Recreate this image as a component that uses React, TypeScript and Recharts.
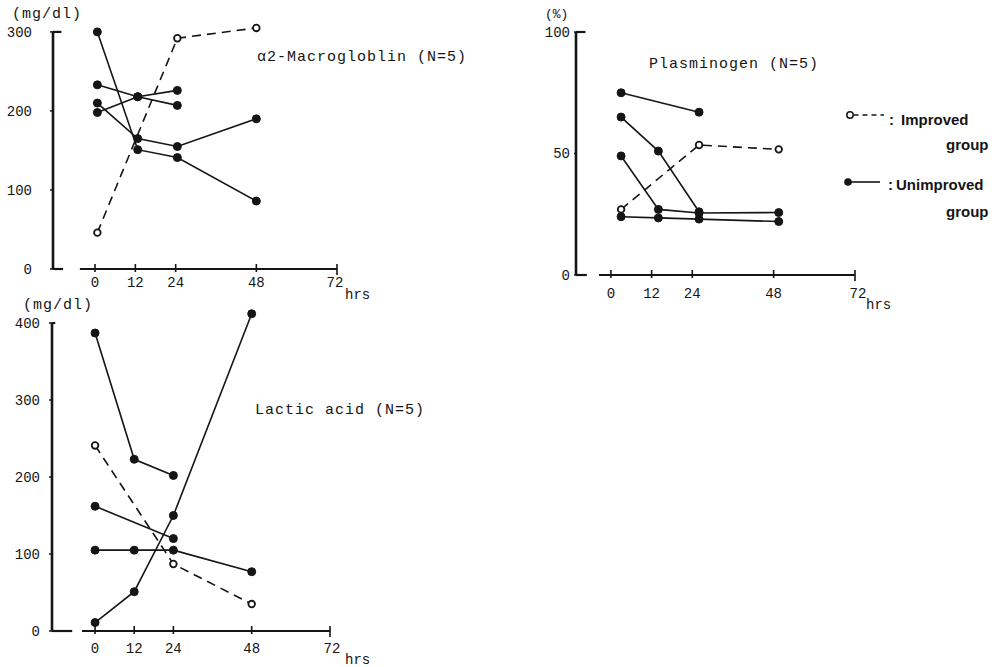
import { LineChart, Line, XAxis, YAxis, ReferenceLine, Legend } from 'recharts'

const INK = '#151515'
const MONO = '"Liberation Mono", "DejaVu Sans Mono", monospace'
const SANS = '"Liberation Sans", Arial, sans-serif'

// α2-Macroglobulin, mg/dl (first series = improved group)
const macroHours = [0.7, 12.7, 24.5, 48]
const macroImproved = [46, null, 292, 305]
const macroUnimproved1 = [300, 151, 141, 86]
const macroUnimproved2 = [210, 165, 155, 190]
const macroUnimproved3 = [233, 218, 207, null]
const macroUnimproved4 = [198, 218, 226, null]
const macroTicks = [0, 100, 200, 300]

// Plasminogen, %
const plasHours = [3, 14, 26, 49.5]
const plasImproved = [27, null, 53.5, 51.7]
const plasUnimproved1 = [75, null, 67, null]
const plasUnimproved2 = [65, 51, 26, null]
const plasUnimproved3 = [49, 27, 25.5, 25.7]
const plasUnimproved4 = [24, 23.5, 23, 22]
const plasTicks = [0, 50, 100]

// Lactic acid, mg/dl
const lacticHours = [0, 12, 24, 48]
const lacticImproved = [241, null, 87, 35]
const lacticUnimproved1 = [387, 223, 202, null]
const lacticUnimproved2 = [162, null, 120, null]
const lacticUnimproved3 = [105, 105, 105, 77]
const lacticUnimproved4 = [11, 51, 150, 412]
const lacticTicks = [0, 100, 200, 300, 400]

const hourTicks = [0, 12, 24, 48, 72]

const toPoints = (hours: number[], values: (number | null)[]) =>
  hours.map((t, i) => ({ t, v: values[i] })).filter((p) => p.v !== null)

const improvedDot = { r: 3.3, fill: '#fff', stroke: INK, strokeWidth: 1.8, strokeDasharray: 'none' }
const unimprovedDot = { r: 4, fill: INK, stroke: INK, strokeWidth: 1, strokeDasharray: 'none' }

function hourTick(labelDy: number, hrsDy: number, x72Dx: number, hrsDx: number) {
  return function HourTick(props: any) {
    const { x, y, payload } = props
    const is72 = payload.value === 72
    return (
      <g>
        <line x1={x} x2={x} y1={y - 5} y2={y + (is72 ? 6 : 3)} stroke={INK} strokeWidth={1.6} />
        <text
          x={x + (is72 ? x72Dx : 0)}
          y={y + labelDy}
          textAnchor="middle"
          fontFamily={MONO}
          fontSize={14}
          fill={INK}
        >
          {payload.value}
        </text>
        {is72 && (
          <text x={x + hrsDx} y={y + labelDy + hrsDy} fontFamily={MONO} fontSize={14} fill={INK}>
            hrs
          </text>
        )}
      </g>
    )
  }
}

function LegendBox() {
  const txt = { position: 'absolute' as const, fontFamily: SANS, fontWeight: 700, fontSize: 15, lineHeight: '20px', color: INK }
  return (
    <div style={{ position: 'relative', width: 160, height: 120 }}>
      <svg style={{ position: 'absolute', left: 0, top: 4 }} width={42} height={14}>
        <circle cx={6} cy={7} r={3.2} fill="#fff" stroke={INK} strokeWidth={1.5} />
        <line x1={9.5} x2={40} y1={7} y2={7} stroke={INK} strokeWidth={1.6} strokeDasharray="5 4" />
      </svg>
      <span style={{ ...txt, left: 45, top: 6 }}>:</span>
      <span style={{ ...txt, left: 57, top: 6 }}>Improved</span>
      <span style={{ ...txt, left: 102, top: 31 }}>group</span>
      <svg style={{ position: 'absolute', left: 0, top: 71 }} width={42} height={14}>
        <circle cx={4} cy={7} r={3.8} fill={INK} />
        <line x1={6} x2={36} y1={7} y2={7} stroke={INK} strokeWidth={1.6} />
      </svg>
      <span style={{ ...txt, left: 44, top: 71 }}>:</span>
      <span style={{ ...txt, left: 52, top: 71 }}>Unimproved</span>
      <span style={{ ...txt, left: 102, top: 98 }}>group</span>
    </div>
  )
}

interface PanelSpec {
  left: number
  top: number
  width: number
  height: number
  margin: { top: number; right: number; bottom: number; left: number }
  yWidth: number
  xDomain: [number, number]
  yDomain: [number, number]
  yTicks: number[]
  axisStart: number
  footEnd: number
  capEnd: number
  tickSize: number
  tickMargin: number
  labelDy: number
  hrsDy: number
  x72Dx: number
  hrsDx: number
  hours: number[]
  series: (number | null)[][]
  legend?: boolean
}

function Panel({ p }: { p: PanelSpec }) {
  const x0 = p.xDomain[0]
  const yTop = p.yTicks[p.yTicks.length - 1]
  return (
    <div style={{ position: 'absolute', left: p.left, top: p.top }}>
      <LineChart width={p.width} height={p.height} margin={p.margin}>
        <XAxis
          type="number"
          dataKey="t"
          domain={p.xDomain}
          ticks={hourTicks}
          interval={0}
          axisLine={false}
          tickLine={false}
          tickSize={0}
          tickMargin={0}
          height={30}
          tick={hourTick(p.labelDy, p.hrsDy, p.x72Dx, p.hrsDx)}
        />
        <YAxis
          type="number"
          domain={p.yDomain}
          ticks={p.yTicks}
          interval={0}
          width={p.yWidth}
          axisLine={false}
          tickLine={{ stroke: INK, strokeWidth: 1.5 }}
          tickSize={p.tickSize}
          tickMargin={p.tickMargin}
          tick={{ fontFamily: MONO, fontSize: 14, fill: INK }}
        />
        <ReferenceLine segment={[{ x: x0, y: 0 }, { x: x0, y: yTop }]} stroke={INK} strokeWidth={2.6} ifOverflow="visible" />
        <ReferenceLine segment={[{ x: x0, y: 0 }, { x: p.footEnd, y: 0 }]} stroke={INK} strokeWidth={2.2} ifOverflow="visible" />
        <ReferenceLine segment={[{ x: x0, y: yTop }, { x: p.capEnd, y: yTop }]} stroke={INK} strokeWidth={2.2} ifOverflow="visible" />
        <ReferenceLine segment={[{ x: p.axisStart, y: 0 }, { x: 72, y: 0 }]} stroke={INK} strokeWidth={2} ifOverflow="visible" />
        {p.series.map((values, i) => (
          <Line
            key={i}
            data={toPoints(p.hours, values)}
            dataKey="v"
            type="linear"
            stroke={INK}
            strokeWidth={1.6}
            strokeDasharray={i === 0 ? '9 6' : undefined}
            dot={i === 0 ? improvedDot : unimprovedDot}
            activeDot={false}
            legendType="none"
            isAnimationActive={false}
          />
        ))}
        {p.legend && (
          <Legend
            layout="vertical"
            align="center"
            verticalAlign="middle"
            content={() => <LegendBox />}
            wrapperStyle={{ left: 324, top: 104, width: 160 }}
          />
        )}
      </LineChart>
    </div>
  )
}

const macroPanel: PanelSpec = {
  left: 0, top: 0, width: 380, height: 310,
  margin: { top: 24, right: 43, bottom: 11, left: 0 },
  yWidth: 53, xDomain: [-12.5, 72], yDomain: [0, 310], yTicks: macroTicks,
  axisStart: -4.5, footEnd: -9.5, capEnd: -10,
  tickSize: 3, tickMargin: 18, labelDy: 18, hrsDy: 12, x72Dx: -2, hrsDx: 8,
  hours: macroHours,
  series: [macroImproved, macroUnimproved1, macroUnimproved2, macroUnimproved3, macroUnimproved4],
}

const plasPanel: PanelSpec = {
  left: 520, top: 0, width: 484, height: 320,
  margin: { top: 32, right: 149, bottom: 15, left: 0 },
  yWidth: 56, xDomain: [-10.3, 72], yDomain: [0, 100], yTicks: plasTicks,
  axisStart: -3.5, footEnd: -7.1, capEnd: -7.5,
  tickSize: 2, tickMargin: 4, labelDy: 23, hrsDy: 11, x72Dx: 3, hrsDx: 11,
  hours: plasHours,
  series: [plasImproved, plasUnimproved1, plasUnimproved2, plasUnimproved3, plasUnimproved4],
  legend: true,
}

const lacticPanel: PanelSpec = {
  left: 0, top: 295, width: 380, height: 372,
  margin: { top: 12.6, right: 50, bottom: 6, left: 0 },
  yWidth: 52, xDomain: [-13.2, 72], yDomain: [0, 420], yTicks: lacticTicks,
  axisStart: -4, footEnd: -7, capEnd: -12.2,
  tickSize: 3, tickMargin: 9, labelDy: 22, hrsDy: 11, x72Dx: 2, hrsDx: 15,
  hours: lacticHours,
  series: [lacticImproved, lacticUnimproved1, lacticUnimproved2, lacticUnimproved3, lacticUnimproved4],
}

const monoText = { position: 'absolute' as const, fontFamily: MONO, fontSize: 15, letterSpacing: 1, lineHeight: '18px', color: INK, whiteSpace: 'nowrap' as const }

export default function App() {
  return (
    <div style={{ position: 'absolute', left: 0, top: 0, width: 1004, height: 667, background: '#fff', overflow: 'hidden' }}>
      <Panel p={macroPanel} />
      <Panel p={plasPanel} />
      <Panel p={lacticPanel} />
      <div style={{ ...monoText, left: 12, top: 6 }}>(mg/dl)</div>
      <div style={{ ...monoText, left: 545, top: 6, fontSize: 13, letterSpacing: 0 }}>(%)</div>
      <div style={{ ...monoText, left: 23, top: 297 }}>(mg/dl)</div>
      <div style={{ ...monoText, left: 257, top: 49 }}>α2-Macrogloblin (N=5)</div>
      <div style={{ ...monoText, left: 649, top: 56 }}>Plasminogen (N=5)</div>
      <div style={{ ...monoText, left: 255, top: 402 }}>Lactic acid (N=5)</div>
    </div>
  )
}
